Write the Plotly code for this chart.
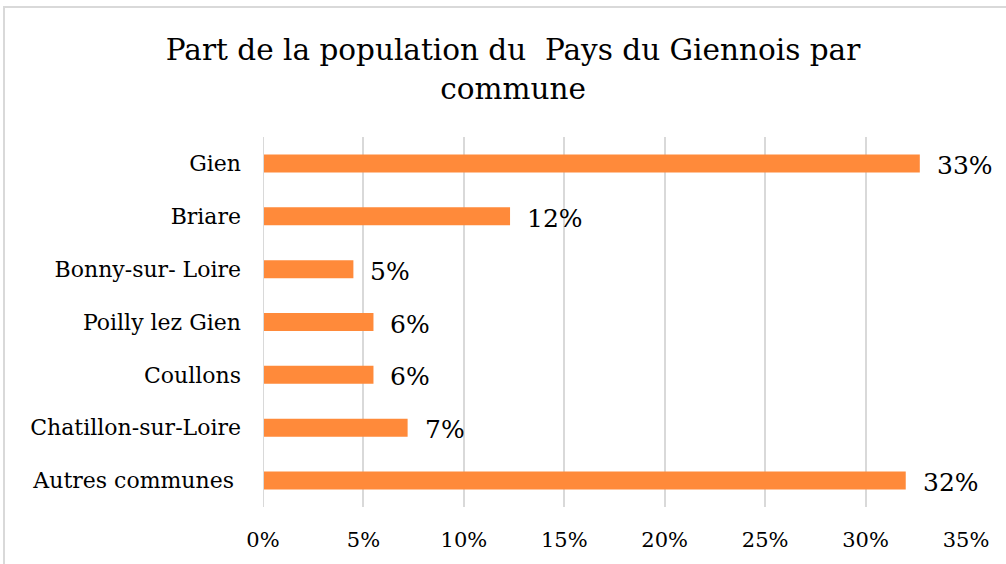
import plotly.graph_objects as go

categories = ["Gien", "Briare", "Bonny-sur- Loire", "Poilly lez Gien", "Coullons",
              "Chatillon-sur-Loire", "Autres communes "]
values = [32.7, 12.3, 4.5, 5.5, 5.5, 7.2, 32.0]
labels = ["33%", "12%", "5%", "6%", "6%", "7%", "32%"]
tick_vals = [0, 5, 10, 15, 20, 25, 30, 35]
tick_text = ["0%", "5%", "10%", "15%", "20%", "25%", "30%", "35%"]

FONT = "DejaVu Serif"
ORANGE = "#FF8A3A"

fig = go.Figure()
fig.add_trace(go.Bar(
    y=categories, x=values, orientation="h",
    marker=dict(color=ORANGE, line=dict(width=0)),
    width=0.34, hoverinfo="skip",
))

for c, v, t in zip(categories, values, labels):
    fig.add_annotation(x=v, y=c, text=t, showarrow=False, xanchor="left",
                       xshift=15, yshift=-2, font=dict(family=FONT, size=25, color="#000"))

fig.update_layout(
    width=1006, height=564,
    margin=dict(l=263, r=40, t=137, b=57),
    paper_bgcolor="white", plot_bgcolor="white",
    title=dict(text="Part de la population du  Pays du Giennois par<br>commune",
               x=0.51, xanchor="center", y=0.893, yanchor="top",
               font=dict(family=FONT, size=29.5, color="#000")),
    showlegend=False,
)
fig.update_xaxes(range=[0, 35], tickvals=tick_vals, ticktext=tick_text,
                 showgrid=True, gridcolor="#D9D9D9", gridwidth=2,
                 zeroline=False, showline=False, ticks="",
                 tickfont=dict(family=FONT, size=21, color="#000"), ticklabelstandoff=18)
fig.update_yaxes(categoryorder="array", categoryarray=categories,
                 autorange="reversed",
                 showgrid=False, zeroline=False, showline=False, ticks="",
                 tickfont=dict(family=FONT, size=22, color="#000"), ticklabelstandoff=21)

fig.add_shape(type="line", xref="x", yref="paper", x0=0, x1=0, y0=0, y1=1,
              line=dict(color="#D9D9D9", width=2))
fig.add_shape(type="rect", xref="paper", yref="paper",
              x0=-259/703, x1=(1006 - 263 + 20)/703, y0=-200/370, y1=(137-7+370)/370,
              line=dict(color="#D9D9D9", width=2), layer="below")

fig.write_html("out.html", config={"displayModeBar": False},
               post_script="document.body.style.margin='0';")
